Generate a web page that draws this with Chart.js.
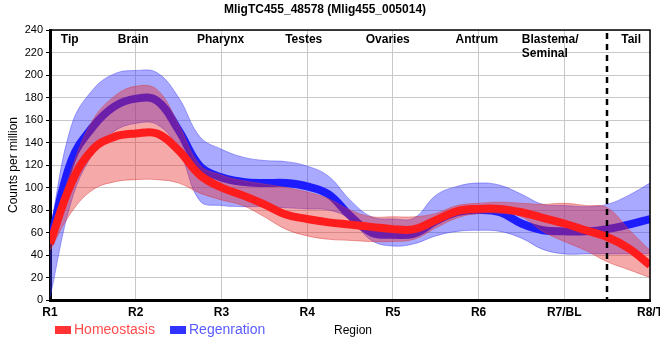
<!DOCTYPE html>
<html>
<head>
<meta charset="utf-8">
<title>MligTC455_48578</title>
<script src="https://cdn.jsdelivr.net/npm/chart.js@4.4.1/dist/chart.umd.min.js"></script>
<style>
  html, body { margin: 0; padding: 0; background: #fff; overflow: hidden; }
  #wrap { width: 660px; height: 360px; }
</style>
</head>
<body>
<div id="wrap"><canvas id="chart" width="660" height="360"></canvas></div>
<script>
// positions along the body (R1 = 1 ... R8/T = 8), every quarter region
var regionX = [1, 1.25, 1.5, 1.75, 2, 2.25, 2.5, 2.75, 3, 3.25, 3.5, 3.75, 4, 4.25, 4.5, 4.75,
  5, 5.25, 5.5, 5.75, 6, 6.25, 6.5, 6.75, 7, 7.25, 7.5, 7.75, 8];

var homeoMean = [50, 104, 134, 145, 148, 148, 133, 111, 100, 93, 85, 76, 72, 69, 67, 65,
  63, 63, 71, 79, 81, 81, 78, 73, 68, 62, 56, 46, 31];
var homeoUpper = [52, 116, 160, 181, 190, 187, 156, 120, 111, 106, 103, 100, 96, 90, 80, 74,
  74, 74, 77, 84, 86, 87, 86, 85, 86, 84, 82, 63, 44];
var homeoLower = [44, 78, 98, 105, 107, 107, 104, 95, 89, 84, 74, 63, 57, 54, 53, 52,
  52, 54, 64, 73, 77, 77, 74, 61, 52, 44, 34, 27, 20];

var regenMean = [50, 124, 154, 172, 179, 177, 151, 119, 109, 105, 104, 104, 101, 94, 75, 60,
  58, 59, 70, 78, 80, 78, 68, 62, 61, 61, 63, 67, 72];
var regenUpper = [62, 155, 187, 201, 204, 202, 180, 145, 134, 127, 124, 123, 119, 110, 89, 74,
  72, 73, 93, 101, 104, 102, 94, 85, 84, 83, 85, 93, 104];
var regenLower = [2, 88, 130, 150, 157, 156, 134, 88, 84, 83, 83, 82, 81, 80, 72, 53,
  48, 50, 57, 61, 62, 61, 55, 45, 41, 41, 41, 41, 41];

var tickLabels = ['R1', 'R2', 'R3', 'R4', 'R5', 'R6', 'R7/BL', 'R8/T'];

// anatomical names written inside the plot, and where they sit on the x axis
var organNames = ['Tip', 'Brain', 'Pharynx', 'Testes', 'Ovaries', 'Antrum', 'Blastema/\nSeminal', 'Tail'];
var organPos = [1.23, 1.97, 2.99, 3.96, 4.94, 5.98, 6.75, 7.78];
var organAlign = ['center', 'center', 'center', 'center', 'center', 'center', 'left', 'center'];

var tailBoundary = 7.5;

var seriesNames = ['Homeostasis', 'Regenration'];

function pts(ys) {
  return regionX.map(function (x, i) {
    return { x: x, y: ys[i] };
  });
}

Chart.defaults.font.family = "'Liberation Sans', Arial, sans-serif";
Chart.defaults.color = '#000';

var extras = {
  id: 'extras',
  afterDatasetsDraw: function (chart) {
    var ctx = chart.ctx;
    var area = chart.chartArea;
    var xs = chart.scales.x;

    // dashed line between blastema and tail
    var dx = Math.round(xs.getPixelForValue(tailBoundary));
    ctx.save();
    ctx.strokeStyle = '#000';
    ctx.lineWidth = 2.5;
    ctx.setLineDash([6, 5]);
    ctx.beginPath();
    ctx.moveTo(dx, area.top + 3);
    ctx.lineTo(dx, area.bottom);
    ctx.stroke();
    ctx.restore();

    // frame top / right
    ctx.save();
    ctx.strokeStyle = '#000';
    ctx.lineWidth = 1.5;
    ctx.beginPath();
    ctx.moveTo(area.left, area.top);
    ctx.lineTo(area.right, area.top);
    ctx.lineTo(area.right, area.bottom);
    ctx.stroke();
    ctx.restore();

    // organ names
    ctx.save();
    ctx.font = "bold 12px 'Liberation Sans', Arial, sans-serif";
    ctx.fillStyle = '#000';
    ctx.textBaseline = 'middle';
    organNames.forEach(function (name, i) {
      ctx.textAlign = organAlign[i];
      var px = xs.getPixelForValue(organPos[i]);
      if (organAlign[i] === 'left') px = px - 21;
      name.split('\n').forEach(function (line, j) {
        ctx.fillText(line, px, area.top + 10 + j * 14);
      });
    });
    ctx.restore();
  },
  afterDraw: function (chart) {
    var ctx = chart.ctx;
    var area = chart.chartArea;
    var y = area.bottom + 30;
    ctx.save();
    ctx.font = "14px 'Liberation Sans', Arial, sans-serif";
    ctx.textBaseline = 'middle';
    ctx.textAlign = 'left';
    // Homeostasis
    ctx.fillStyle = '#ff3333';
    ctx.fillRect(area.left + 5, y - 4, 16, 8);
    ctx.fillStyle = '#ff4d4d';
    ctx.fillText(seriesNames[0], area.left + 24, y);
    // Regenration
    ctx.fillStyle = '#3333ff';
    ctx.fillRect(area.left + 120, y - 4, 16, 8);
    ctx.fillStyle = '#5a5aff';
    ctx.fillText(seriesNames[1], area.left + 139, y);
    // axis title
    ctx.font = "12px 'Liberation Sans', Arial, sans-serif";
    ctx.fillStyle = '#000';
    ctx.textAlign = 'center';
    ctx.fillText('Region', (area.left + area.right) / 2 + 3, y + 1);
    ctx.restore();
  }
};

var bandRed = 'rgba(230, 40, 40, 0.4)';
var bandBlue = 'rgba(50, 50, 255, 0.42)';

new Chart(document.getElementById('chart'), {
  type: 'line',
  data: {
    datasets: [
      { label: seriesNames[0], data: pts(homeoMean), borderColor: 'rgb(255, 28, 28)', borderWidth: 8, fill: false },
      { label: 'homeo upper', data: pts(homeoUpper), borderColor: 'rgba(215, 60, 60, 0.45)', borderWidth: 1, backgroundColor: bandRed, fill: '+1' },
      { label: 'homeo lower', data: pts(homeoLower), borderColor: 'rgba(215, 60, 60, 0.45)', borderWidth: 1, fill: false },
      { label: seriesNames[1], data: pts(regenMean), borderColor: 'rgb(28, 28, 255)', borderWidth: 8, fill: false },
      { label: 'regen upper', data: pts(regenUpper), borderColor: 'rgba(60, 60, 240, 0.45)', borderWidth: 1, backgroundColor: bandBlue, fill: '+1' },
      { label: 'regen lower', data: pts(regenLower), borderColor: 'rgba(60, 60, 240, 0.45)', borderWidth: 1, fill: false }
    ]
  },
  options: {
    responsive: false,
    animation: false,
    layout: { padding: { right: 10, left: 0 } },
    elements: {
      point: { radius: 0 },
      line: { tension: 0.4, borderCapStyle: 'butt', borderJoinStyle: 'round' }
    },
    plugins: {
      legend: { display: false },
      tooltip: { enabled: false },
      title: {
        display: true,
        text: 'MligTC455_48578 (Mlig455_005014)',
        font: { size: 12, weight: 'bold' },
        color: '#000',
        padding: { top: 2, bottom: 13.6 }
      }
    },
    scales: {
      x: {
        type: 'linear',
        min: 1,
        max: 8,
        ticks: {
          stepSize: 1,
          padding: 5,
          maxRotation: 0,
          font: { size: 12, weight: 'bold' },
          color: '#000',
          callback: function (v) {
            return tickLabels[Math.round(v) - 1];
          }
        },
        grid: { color: '#c8c8c8', drawTicks: false },
        border: { color: '#000', width: 3 },
        afterFit: function (s) {
          s.height = 60;
          s.paddingLeft = 0;
          s.paddingRight = 0;
        }
      },
      y: {
        min: 0,
        max: 240,
        ticks: { stepSize: 20, font: { size: 11 }, color: '#000', padding: 3 },
        grid: { color: '#c8c8c8', tickColor: '#000', tickLength: 4 },
        border: { color: '#000', width: 3 },
        title: {
          display: true,
          text: 'Counts per million',
          font: { size: 12 },
          color: '#000',
          padding: { top: 6, bottom: 0 }
        },
        afterFit: function (s) {
          s.width = 50;
        }
      }
    }
  },
  plugins: [extras]
});
</script>
</body>
</html>
